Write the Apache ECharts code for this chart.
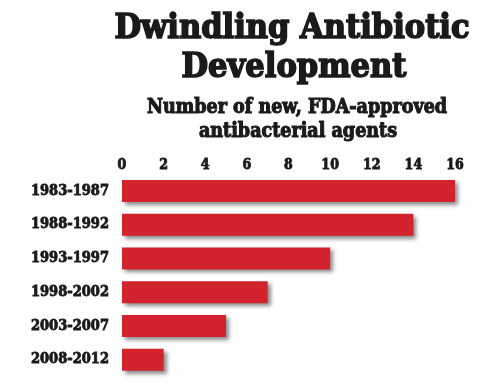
<!DOCTYPE html>
<html>
<head>
<meta charset="utf-8">
<script src="https://cdn.jsdelivr.net/npm/echarts@6/dist/echarts.min.js"></script>
<style>
html,body{margin:0;padding:0;background:#fff;}
#c{width:500px;height:392px;}
</style>
</head>
<body>
<div id="c"></div>
<script>
var categories = ['1983-1987', '1988-1992', '1993-1997', '1998-2002', '2003-2007', '2008-2012'];
var agents = [16, 14, 10, 7, 5, 2];
var titleLines = ['Dwindling Antibiotic', 'Development'];
var subtitleLines = ['Number of new, FDA-approved', 'antibacterial agents'];

var FONT = '"DejaVu Serif Condensed", "DejaVu Serif", serif';
var INK = '#1a1a1a';
function line(text, x, y, size, stroke) {
  return { type: 'text', x: x, y: y, style: { text: text, font: 'bold ' + size + 'px ' + FONT, fill: INK, stroke: INK, lineWidth: stroke, textAlign: 'center', textVerticalAlign: 'middle' } };
}
var chart = echarts.init(document.getElementById('c'));
chart.setOption({
  backgroundColor: '#ffffff',
  animation: false,
  graphic: [
    line(titleLines[0], 292, 29, 34, 1.6),
    line(titleLines[1], 294, 68, 34, 1.6),
    line(subtitleLines[0], 297, 108, 19.5, 1),
    line(subtitleLines[1], 298, 132, 19.5, 1)
  ],
  grid: { left: 122, right: 45, top: 174, bottom: 15.5, containLabel: false },
  xAxis: {
    type: 'value', position: 'top', min: 0, max: 16, interval: 2,
    axisLine: { show: false }, axisTick: { show: false }, splitLine: { show: false },
    axisLabel: { margin: 2, color: INK, fontFamily: FONT, fontWeight: 'bold', fontSize: 14, textBorderColor: INK, textBorderWidth: 0.8 }
  },
  yAxis: {
    type: 'category', data: categories, inverse: true,
    axisLine: { show: false }, axisTick: { show: false },
    axisLabel: { margin: 13, color: INK, fontFamily: FONT, fontWeight: 'bold', fontSize: 14.5, textBorderColor: INK, textBorderWidth: 0.8 }
  },
  series: [{
    type: 'bar', data: agents, barWidth: 22,
    itemStyle: { color: '#d2232e', shadowColor: 'rgba(0,0,0,0.45)', shadowBlur: 4, shadowOffsetX: 3, shadowOffsetY: 3 }
  }]
});
</script>
</body>
</html>
